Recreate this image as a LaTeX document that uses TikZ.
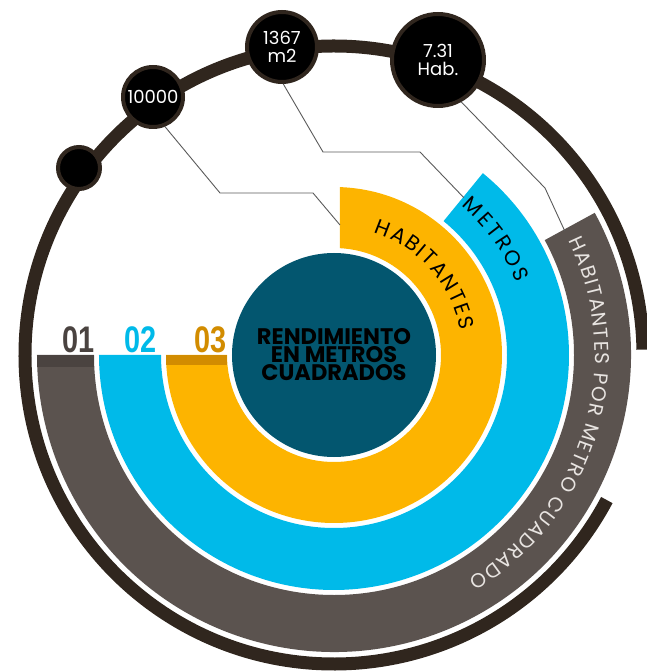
\documentclass[tikz,border=0pt]{standalone}
\usepackage{fontspec}
\setmainfont{Poppins}
\newfontfamily\numfont{Liberation Sans}
\usetikzlibrary{decorations.text}
\definecolor{ringbrown}{HTML}{30261E}
\definecolor{bandorange}{HTML}{FDB400}
\definecolor{bandblue}{HTML}{00BAE9}
\definecolor{bandgray}{HTML}{5B534F}
\definecolor{coreteal}{HTML}{03566F}
\definecolor{stripgray}{HTML}{4A4340}
\definecolor{stripor}{HTML}{D28C00}
\definecolor{textlight}{HTML}{E8E4E1}
\definecolor{linkgray}{HTML}{5A5A5A}
\begin{document}
\begin{tikzpicture}[x=1pt,y=1pt,
  bubble/.style={circle, fill=black, draw=ringbrown, line width=4pt, inner sep=0pt,
    text=white, align=center, font=\fontsize{18}{17.5}\selectfont},
  link/.style={draw=linkgray, line width=0.9pt},
  bandnum/.style={anchor=south east, inner sep=0pt, font=\numfont\bfseries\fontsize{37}{37}\selectfont},
]
\useasboundingbox (-334,-316) rectangle (312,355);

% outer ring
\draw[ringbrown, line width=13pt] (1:309) arc[start angle=1, end angle=332, radius=309];

% gray band
\fill[bandgray] (28.6:297) arc[start angle=28.6, end angle=-180, radius=297]
  -- (-180:240) arc[start angle=-180, end angle=28.6, radius=240] -- cycle;
\begin{scope}
\clip (-300,0) rectangle (-230,-12);
\fill[stripgray] (-297,0) rectangle (-240,-14);
\end{scope}
% blue band
\fill[bandblue] (50.7:235) arc[start angle=50.7, end angle=-180, radius=235]
  -- (-180:173) arc[start angle=-180, end angle=50.7, radius=173] -- cycle;
% orange band
\fill[bandorange] (88:168) arc[start angle=88, end angle=-180, radius=168]
  -- (-180:107) arc[start angle=-180, end angle=86.8, radius=107] -- cycle;
\fill[stripor] (-168,0) rectangle (-107,-10);

% core
\node[circle, fill=coreteal, minimum size=204pt, inner sep=0pt, align=center,
  font=\bfseries\fontsize{22.5}{18}\selectfont, text=black] (core) at (0,0)
  {RENDIMIENTO\\EN METROS\\CUADRADOS};

% numbers
\node[bandnum, text=stripgray] (n1) at (-239,2) {\scalebox{0.78}[1]{01}};
\node[bandnum, text=bandblue] (n2) at (-177,2) {\scalebox{0.78}[1]{02}};
\node[bandnum, text=stripor] (n3) at (-107,2) {\scalebox{0.78}[1]{03}};

% curved labels
\path[decorate, decoration={text along path, text align=fit to path,
  text={|\fontsize{21}{21}\selectfont|HABITANTES}}]
  (72:129) arc[start angle=72, end angle=11, radius=129];
\path[decorate, decoration={text along path, text align=fit to path,
  text={|\fontsize{21}{21}\selectfont|METROS}}]
  (49.5:196) arc[start angle=49.5, end angle=21.5, radius=196];
\path[decorate, decoration={text along path, text align=fit to path,
  text={|\fontsize{20}{20}\selectfont\color{textlight}|HABITANTES POR METRO CUADRADO}}]
  (26:261) arc[start angle=26, end angle=-59, radius=261];

% bubbles
\node[bubble, minimum size=42pt] (c0) at (-255,187) {};
\node[bubble, minimum size=60pt] (c1) at (-181,258) {10000};
\node[bubble, minimum size=70pt] (c2) at (-52,308) {1367\\m2};
\node[bubble, minimum size=92pt] (c3) at (104,295) {7.31\\Hab.};

% connector ends
\coordinate (oc) at (6,130);
\coordinate (bc) at (50.5:204);
\coordinate (gc) at (28.3:262);

\draw[link] (c1.-68) -- (-114,162) -- (-21,162) -- (oc);
\draw[link] (c2.-88) -- (-11,203) -- (86,203) -- (bc);
\draw[link] (c3.-61) -- (211,167) -- (gc);
\end{tikzpicture}
\end{document}
